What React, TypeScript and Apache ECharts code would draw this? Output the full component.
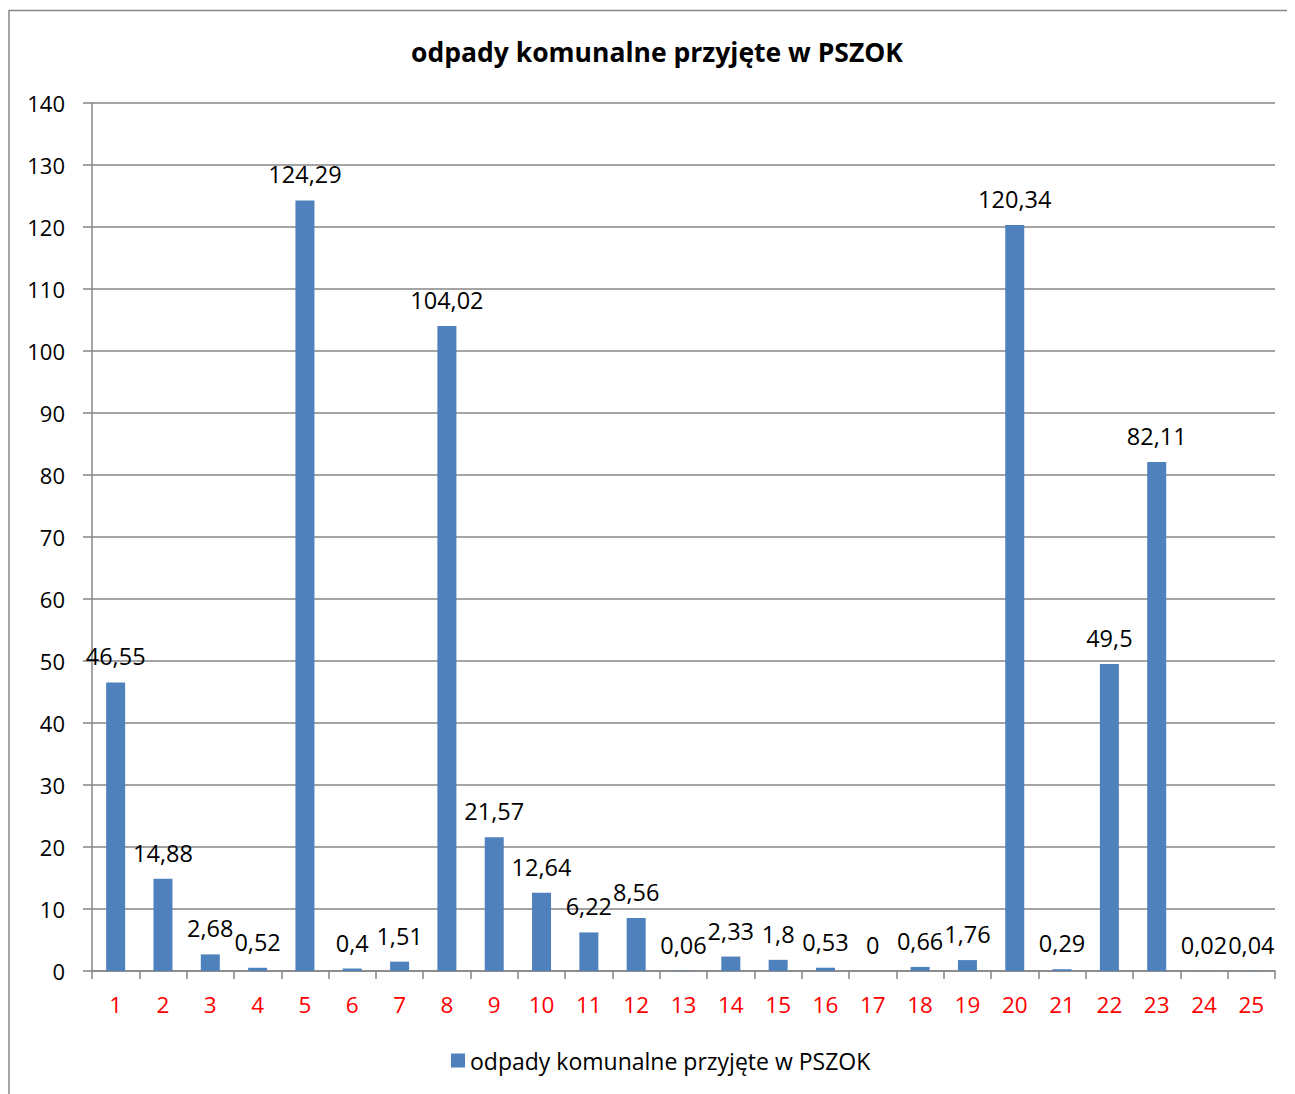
import React, { useEffect, useRef } from "react";
import * as echarts from "echarts";

const categories = ["1","2","3","4","5","6","7","8","9","10","11","12","13","14","15","16","17","18","19","20","21","22","23","24","25"];
const values = [46.55, 14.88, 2.68, 0.52, 124.29, 0.4, 1.51, 104.02, 21.57, 12.64, 6.22, 8.56, 0.06, 2.33, 1.8, 0.53, 0, 0.66, 1.76, 120.34, 0.29, 49.5, 82.11, 0.02, 0.04];
const seriesName = "odpady komunalne przyjęte w PSZOK";
const titleText = "odpady komunalne przyjęte w PSZOK";

const FONT = "'Open Sans', sans-serif";
const GRAY = "#868686";

export default function App() {
  const ref = useRef<HTMLDivElement>(null);
  useEffect(() => {
    const chart = echarts.init(ref.current!, null, { renderer: "svg" });
    chart.setOption({
      animation: false,
      textStyle: { fontFamily: FONT },
      title: {
        text: titleText,
        left: 644,
        textAlign: "center",
        top: 25,
        textStyle: { fontSize: 26.5, fontWeight: "bold", color: "#000", fontFamily: FONT },
      },
      graphic: [
        {
          type: "rect",
          shape: { x: 1, y: 2.5, width: 3000, height: 3000 },
          style: { fill: "none", stroke: GRAY, lineWidth: 1.5 },
          silent: true,
        },
      ],
      legend: {
        left: 443,
        top: 1041,
        padding: 0,
        itemWidth: 14,
        itemHeight: 14,
        icon: "rect",
        itemGap: 6,
        textStyle: { fontSize: 23, color: "#000", fontFamily: FONT },
        data: [seriesName],
      },
      grid: { left: 84, right: 20, top: 95, bottom: 123, containLabel: false },
      xAxis: {
        type: "category",
        data: categories,
        boundaryGap: true,
        axisLine: { lineStyle: { color: GRAY, width: 1.5 } },
        axisTick: { show: true, length: 8, alignWithLabel: false, lineStyle: { color: GRAY, width: 1.5 } },
        axisLabel: { color: "#ff0000", fontSize: 22.5, margin: 22, fontFamily: FONT, interval: 0 },
        splitLine: { show: false },
      },
      yAxis: {
        type: "value",
        min: 0,
        max: 140,
        interval: 10,
        axisLine: { show: true, lineStyle: { color: GRAY, width: 1.5 } },
        axisTick: { show: true, length: 9, lineStyle: { color: GRAY, width: 1.5 } },
        axisLabel: { color: "#000", fontSize: 22, margin: 27, fontFamily: FONT },
        splitLine: { show: true, lineStyle: { color: GRAY, width: 1.5 } },
      },
      series: [
        {
          name: seriesName,
          type: "bar",
          data: values,
          barWidth: 19,
          itemStyle: { color: "#4F81BD" },
          label: {
            show: true,
            position: "top",
            distance: 14,
            color: "#000",
            fontSize: 23.5,
            fontFamily: FONT,
            formatter: (p: any) => String(p.value).replace(".", ","),
          },
        },
      ],
    });
    return () => chart.dispose();
  }, []);
  return <div ref={ref} style={{ width: 1287, height: 1086 }} />;
}
